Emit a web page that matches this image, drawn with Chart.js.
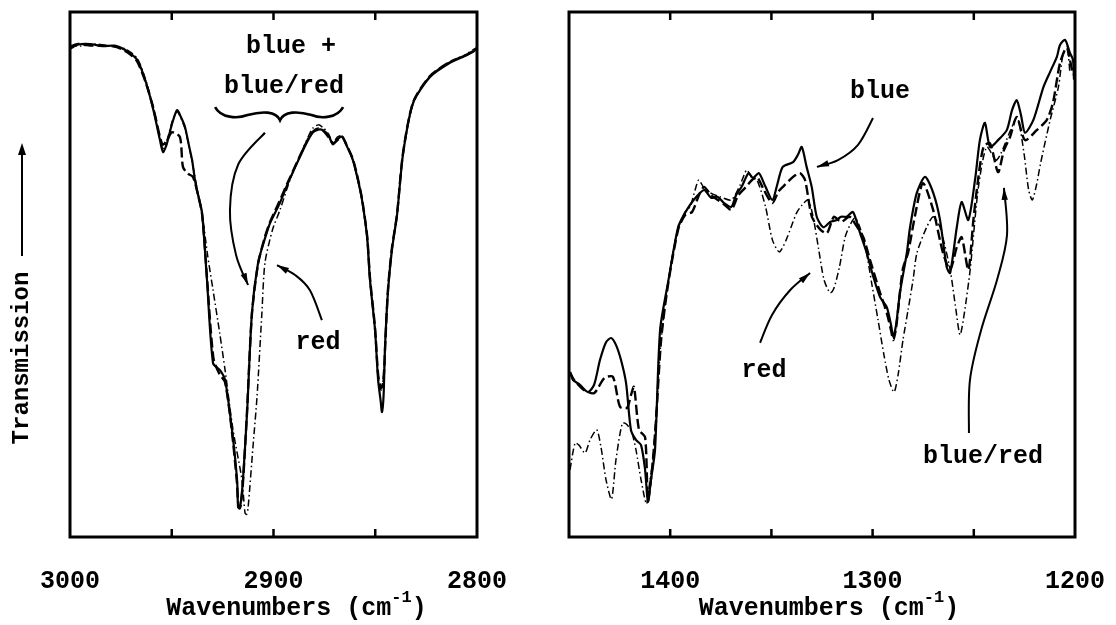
<!DOCTYPE html>
<html>
<head>
<meta charset="utf-8">
<title>IR transmission spectra</title>
<script src="https://cdn.jsdelivr.net/npm/chart.js@4.4.1/dist/chart.umd.min.js"></script>
<style>
    html, body { margin: 0; padding: 0; background: #fff; }
    #wrap { position: relative; width: 1116px; height: 625px; overflow: hidden; }
    .panel { position: absolute; top: 0; }
    #leftPanel { left: 0; }
    #rightPanel { left: 530px; }
</style>
</head>
<body>
<div id="wrap">
    <div class="panel" id="leftPanel"><canvas id="chChart" width="530" height="625"></canvas></div>
    <div class="panel" id="rightPanel"><canvas id="fpChart" width="586" height="625"></canvas></div>
</div>
<script>
// ---- C-H stretch region (left panel) ----
const chRange = [2800, 3000];
const chTickLabels = [3000, 2900, 2800];

const chBlueWn = [3000, 2996, 2990, 2984, 2978, 2973, 2970, 2967, 2963, 2959, 2955.8, 2954.3, 2952.5, 2950, 2947.4,
    2945.5, 2943.5, 2941.5, 2940, 2938.6, 2937, 2935.1, 2932.7, 2929.7, 2926.3, 2923.8, 2920.4, 2917.9, 2917.4, 2916.6,
    2915.8, 2915, 2913, 2910.6, 2907.6, 2904.5, 2901.7, 2897, 2892.9, 2887, 2883, 2880.6, 2878, 2875.7, 2873,
    2870.8, 2868.5, 2866.3, 2864, 2861, 2858.5, 2856.5, 2854, 2852.6, 2850.1, 2848.6, 2847.4, 2846.7, 2845.9, 2845.2,
    2843.7, 2841.8, 2839.3, 2836.4, 2831.4, 2823.1, 2813.3, 2806, 2802, 2800];
const chBlueT = [93.0, 93.8, 93.9, 93.5, 93.6, 92.8, 92.0, 90.9, 87.0, 81.3, 75.6, 73.3, 74.8, 78.5, 81.3,
    80.0, 78.1, 74.5, 71.8, 68.0, 65.0, 61.7, 49.0, 33.1, 31.8, 29.9, 20.4, 10.9, 5.7, 5.4,
    7.5, 10.9, 23.6, 42.7, 52.2, 56.5, 59.8, 63.5, 67.4, 72.4, 75.6, 77.1, 77.6, 77.5, 76.5,
    74.8, 75.8, 76.2, 74.5, 71.8, 68.0, 64.2, 57.1, 49.0, 39.4, 29.9, 26.1, 23.8, 27.0, 36.2,
    47.0, 54.7, 61.3, 72.8, 82.7, 87.6, 90.3, 91.6, 92.4, 93.0];

const chBlueRedWn = [3000, 2996, 2990, 2984, 2978, 2973, 2970, 2967, 2963, 2959, 2955.8, 2954.3, 2952, 2949.9, 2946,
    2944.5, 2942, 2939.6, 2937.6, 2935.1, 2932.7, 2929.5, 2926.5, 2923.8, 2920.4, 2918, 2917.2, 2916.4, 2915.5, 2914.8,
    2913, 2910.6, 2907.6, 2904.5, 2901.7, 2897, 2892.9, 2887, 2883, 2880.6, 2878, 2875.7, 2873, 2870.8, 2868.5,
    2866.3, 2864, 2861, 2858.5, 2856.5, 2854, 2852.6, 2850.1, 2848.6, 2847.2, 2846.4, 2845.6, 2845, 2843.7, 2841.8,
    2839.3, 2836.4, 2831.4, 2823.1, 2813.3, 2806, 2802, 2800];
const chBlueRedT = [93.4, 93.9, 93.6, 93.6, 93.4, 92.6, 91.8, 90.6, 86.8, 81.6, 76.2, 74.7, 75.8, 77.1, 76.2,
    70.5, 69.2, 68.6, 66.0, 61.5, 49.5, 34.0, 31.0, 29.5, 20.0, 10.5, 5.8, 5.6, 8.0, 11.5,
    24.0, 42.5, 52.0, 56.8, 60.0, 64.0, 67.6, 72.6, 75.8, 77.2, 77.8, 77.4, 76.2, 75.0, 75.6,
    76.3, 74.6, 72.0, 68.2, 64.4, 57.4, 49.4, 39.8, 31.0, 28.4, 28.8, 32.0, 37.5, 47.4, 55.0,
    61.5, 73.0, 82.8, 87.8, 90.5, 91.7, 92.5, 93.1];

const chRedWn = [3000, 2995, 2988, 2980, 2973, 2967, 2963, 2959, 2955.8, 2954.3, 2952, 2949.5, 2947.4, 2945.5, 2943.5,
    2940, 2937.6, 2935.1, 2932.5, 2929.7, 2926.5, 2923.8, 2919.9, 2915.5, 2914, 2913.2, 2912.5, 2910.1, 2908.1, 2905.7,
    2904.2, 2900.5, 2896.8, 2891.9, 2887, 2883, 2880.6, 2878, 2875.7, 2873, 2870.8, 2868.5, 2866.3, 2864, 2861,
    2856.5, 2854, 2852.6, 2850.1, 2848.6, 2847.2, 2846.5, 2845.6, 2845, 2843.7, 2841.8, 2839.3, 2836.4, 2831.4, 2823.1,
    2813.3, 2806, 2802, 2800];
const chRedT = [93.6, 93.5, 93.9, 93.5, 93.0, 91.2, 87.3, 81.8, 76.0, 74.0, 76.0, 79.5, 81.0, 79.8, 77.8,
    71.5, 66.5, 61.7, 54.0, 47.0, 39.0, 31.8, 20.4, 10.9, 4.6, 4.3, 5.5, 17.1, 26.7, 42.7,
    52.2, 58.5, 62.3, 68.0, 72.6, 76.2, 77.9, 78.5, 78.0, 76.8, 75.2, 76.2, 76.4, 74.5, 71.8,
    64.2, 57.1, 49.0, 39.4, 30.5, 28.0, 28.6, 32.0, 38.0, 47.5, 55.0, 61.5, 73.0, 82.5, 87.8,
    90.5, 91.8, 92.8, 93.2];

// ---- fingerprint region (right panel) ----
const fpRange = [1200, 1450];
const fpTickLabels = [1400, 1300, 1200];

const fpBlueWn = [1449.5, 1448.0, 1444.6, 1440.6, 1437.6, 1434.7, 1431.7, 1429.2, 1426.8, 1424.3, 1421.8, 1419.4, 1416.9,
    1414.4, 1412.4, 1411.0, 1409.5, 1407.5, 1405.0, 1401.1, 1396.1, 1392.7, 1388.4, 1383.3, 1379.8, 1376.6, 1373.4,
    1369.8, 1367.5, 1364.7, 1361.3, 1359.1, 1356.2, 1352.9, 1349.5, 1347.2, 1344.4, 1339.3, 1336.9, 1335.0, 1332.6,
    1330.1, 1327.6, 1324.4, 1321.0, 1317.7, 1315.6, 1312.8, 1309.7, 1306.2, 1302.9, 1299.6, 1296.3, 1293.0, 1290.9,
    1289.8, 1288.4, 1286.5, 1283.1, 1281.5, 1278.2, 1274.1, 1270.0, 1266.7, 1263.4, 1261.7, 1258.4, 1256.0, 1252.7,
    1249.4, 1247.0, 1244.5, 1242.0, 1238.0, 1233.7, 1231.1, 1228.8, 1226.7, 1224.7, 1220.6, 1215.6, 1212.3, 1209.0,
    1207.4, 1204.9, 1202.5, 1201.0, 1200.5];
const fpBlueT = [31.4, 29.9, 29.0, 27.6, 29.0, 33.7, 37.1, 37.9, 36.6, 33.7, 29.3, 20.4, 18.5,
    17.5, 12.8, 6.7, 10.9, 16.6, 39.4, 48.4, 59.0, 61.7, 64.2, 66.1, 64.6, 64.8, 63.6,
    62.9, 65.1, 66.7, 69.3, 68.4, 69.3, 66.7, 64.2, 67.0, 70.5, 71.4, 72.8, 74.3, 70.5,
    66.7, 61.0, 59.0, 60.0, 60.4, 61.0, 61.0, 61.9, 57.9, 54.1, 49.5, 45.7, 43.8, 40.4,
    38.1, 40.4, 46.5, 54.1, 59.0, 65.5, 68.6, 65.5, 60.4, 51.4, 50.3, 59.0, 63.8, 60.4,
    68.0, 75.6, 78.9, 74.3, 75.6, 77.5, 81.3, 83.2, 80.4, 77.0, 79.4, 85.7, 88.6, 91.4,
    93.7, 94.7, 92.2, 90.9, 87.1];

const fpBlueRedWn = [1449.5, 1447.5, 1442.6, 1437.6, 1432.5, 1428.3, 1424.8, 1421.3, 1419.4, 1417.9, 1415.4, 1412.4,
    1411.0, 1409.0, 1407.0, 1404.5, 1401.1, 1396.1, 1392.7, 1389.2, 1385.8, 1383.3, 1379.8, 1376.4, 1372.9, 1369.8,
    1366.5, 1363.0, 1359.6, 1357.1, 1353.7, 1349.5, 1346.7, 1344.3, 1339.3, 1335.9, 1333.4, 1330.0, 1325.7, 1322.5,
    1319.1, 1315.6, 1311.4, 1308.2, 1304.6, 1301.3, 1296.3, 1293.0, 1290.9, 1289.8, 1288.4, 1286.9, 1285.0, 1282.5,
    1279.0, 1275.1, 1270.1, 1265.2, 1261.7, 1258.4, 1256.0, 1252.7, 1250.2, 1247.9, 1245.2, 1242.0, 1238.0, 1235.1,
    1232.1, 1228.8, 1224.7, 1218.9, 1214.0, 1210.9, 1207.4, 1204.1, 1202.5, 1201.0];
const fpBlueRedT = [31.4, 29.9, 28.0, 27.4, 30.3, 30.5, 24.8, 24.6, 27.0, 28.6, 20.4, 19.0,
    7.0, 12.8, 22.3, 37.5, 48.0, 58.5, 61.3, 61.9, 65.1, 66.7, 65.1, 64.2, 63.2, 62.3,
    65.0, 66.5, 68.0, 68.6, 66.1, 63.6, 65.7, 66.7, 68.6, 69.3, 68.0, 61.0, 58.5, 57.9,
    61.0, 60.0, 61.0, 59.4, 57.1, 52.8, 46.5, 42.7, 39.4, 37.5, 39.8, 45.1, 51.2, 54.1,
    61.3, 67.4, 62.3, 54.1, 50.9, 55.2, 57.1, 50.9, 60.4, 68.0, 74.3, 75.0, 69.5, 73.7,
    76.2, 80.0, 75.6, 77.5, 79.4, 82.7, 90.3, 93.3, 90.9, 88.0];

const fpRedWn = [1449.5, 1447.0, 1445.1, 1442.1, 1439.6, 1436.3, 1434.2, 1431.7, 1429.0, 1426.8, 1423.6, 1421.3, 1418.9,
    1416.9, 1414.4, 1411.7, 1410.0, 1408.5, 1406.5, 1404.5, 1401.6, 1396.6, 1392.7, 1390.2, 1387.7, 1385.9, 1383.3,
    1379.9, 1375.4, 1369.8, 1365.5, 1362.2, 1359.6, 1357.1, 1352.9, 1349.5, 1346.1, 1342.7, 1337.6, 1334.9, 1331.9,
    1329.4, 1326.6, 1324.0, 1321.0, 1319.1, 1316.4, 1313.6, 1311.2, 1308.7, 1306.2, 1303.3, 1300.3, 1297.3, 1294.4,
    1291.9, 1289.4, 1287.4, 1285.0, 1282.5, 1280.0, 1278.1, 1273.3, 1270.0, 1266.7, 1261.7, 1258.8, 1256.8, 1254.8,
    1251.8, 1247.7, 1243.6, 1238.7, 1231.8, 1228.5, 1225.2, 1222.9, 1221.1, 1219.0, 1217.0, 1212.3, 1208.2, 1205.8,
    1203.8, 1202.5];
const fpRedT = [12.8, 17.9, 17.5, 16.0, 18.5, 20.4, 17.1, 10.9, 7.2, 14.7, 21.7, 21.4, 19.8,
    16.6, 10.9, 6.3, 10.9, 14.7, 26.1, 37.5, 47.0, 58.1, 61.9, 62.9, 66.1, 68.0, 66.5,
    65.5, 64.8, 64.2, 67.0, 69.9, 68.4, 68.0, 62.9, 56.6, 54.3, 56.6, 61.7, 63.2, 64.2,
    61.0, 54.7, 49.0, 46.5, 47.4, 51.4, 57.1, 59.4, 60.8, 58.9, 54.7, 48.0, 41.3, 34.7,
    29.9, 27.6, 30.9, 37.5, 43.2, 49.0, 54.1, 59.0, 61.0, 59.0, 50.9, 43.2, 38.5, 42.3,
    50.9, 66.7, 74.3, 71.8, 77.5, 80.0, 73.1, 66.1, 64.2, 67.1, 71.2, 79.4, 85.7, 92.2,
    92.8, 88.4];

const FONT = '"Liberation Mono", "Courier New", monospace';

const lineStyles = {
    blue:    { borderWidth: 2.2, borderDash: [] },
    blueRed: { borderWidth: 2.4, borderDash: [10, 4] },
    red:     { borderWidth: 1.5, borderDash: [7, 3, 1.5, 3] }
};

function toPoints(wn, t) {
    return wn.map((w, i) => ({ x: w, y: t[i] }));
}

function makeDataset(label, wn, t, style) {
    return Object.assign({
        label: label,
        data: toPoints(wn, t),
        borderColor: '#000',
        backgroundColor: '#000',
        pointRadius: 0,
        tension: 0.25,
        fill: false
    }, lineStyles[style]);
}

// smooth curve through points (Catmull-Rom as bezier)
function smoothPath(ctx, pts) {
    ctx.beginPath();
    ctx.moveTo(pts[0][0], pts[0][1]);
    for (let i = 0; i < pts.length - 1; i++) {
        const p0 = pts[i - 1] || pts[i], p1 = pts[i], p2 = pts[i + 1], p3 = pts[i + 2] || p2;
        ctx.bezierCurveTo(
            p1[0] + (p2[0] - p0[0]) / 6, p1[1] + (p2[1] - p0[1]) / 6,
            p2[0] - (p3[0] - p1[0]) / 6, p2[1] - (p3[1] - p1[1]) / 6,
            p2[0], p2[1]);
    }
    ctx.stroke();
}

function drawArrow(ctx, pts) {
    smoothPath(ctx, pts);
    const tip = pts[pts.length - 1], prev = pts[pts.length - 2];
    const ang = Math.atan2(tip[1] - prev[1], tip[0] - prev[0]);
    const len = 12, half = 3.2;
    ctx.beginPath();
    ctx.moveTo(tip[0], tip[1]);
    ctx.lineTo(tip[0] - len * Math.cos(ang) + half * Math.sin(ang), tip[1] - len * Math.sin(ang) - half * Math.cos(ang));
    ctx.lineTo(tip[0] - len * Math.cos(ang) - half * Math.sin(ang), tip[1] - len * Math.sin(ang) + half * Math.cos(ang));
    ctx.closePath();
    ctx.fill();
}

function drawBrace(ctx, l, r, tip) {
    const x0 = l[0], x1 = r[0], y0 = l[1], xm = tip[0], y1 = tip[1];
    ctx.beginPath();
    ctx.moveTo(x0, y0);
    ctx.bezierCurveTo(x0 + 6, y0 + 11, x0 + 22, y0 + 12, (x0 + xm) / 2, y0 + 8);
    ctx.bezierCurveTo(xm - 18, y0 + 4, xm - 4, y0 + 4, xm, y1);
    ctx.bezierCurveTo(xm + 4, y0 + 4, xm + 18, y0 + 4, (xm + x1) / 2, y0 + 8);
    ctx.bezierCurveTo(x1 - 22, y0 + 12, x1 - 6, y0 + 11, x1, y0);
    ctx.stroke();
}

const figureNotes = {
    id: 'figureNotes',
    afterDraw(chart, args, opts) {
        const ctx = chart.ctx;
        const a = chart.chartArea;
        const xs = chart.scales.x, ys = chart.scales.y;
        const px = (w, t) => [xs.getPixelForValue(w), ys.getPixelForValue(t)];

        ctx.save();
        ctx.strokeStyle = '#000';
        ctx.fillStyle = '#000';
        ctx.setLineDash([]);

        // frame and inward ticks
        ctx.lineWidth = 3;
        ctx.strokeRect(a.left, a.top, a.right - a.left, a.bottom - a.top);
        ctx.lineWidth = 2.5;
        xs.ticks.forEach(tk => {
            const x = xs.getPixelForValue(tk.value);
            if (x <= a.left + 2 || x >= a.right - 2) return;
            ctx.beginPath();
            ctx.moveTo(x, a.top); ctx.lineTo(x, a.top + 8);
            ctx.moveTo(x, a.bottom); ctx.lineTo(x, a.bottom - 8);
            ctx.stroke();
        });

        // text labels
        ctx.font = 'bold 25px ' + FONT;
        ctx.textAlign = 'center';
        ctx.textBaseline = 'middle';
        (opts.labels || []).forEach(l => {
            const p = px(l.at[0], l.at[1]);
            ctx.fillText(l.text, p[0], p[1]);
        });

        // pointer arrows and brace
        ctx.lineWidth = 2;
        (opts.arrows || []).forEach(path => drawArrow(ctx, path.map(q => px(q[0], q[1]))));
        if (opts.brace) {
            ctx.lineWidth = 2.6;
            drawBrace(ctx, px(opts.brace.left[0], opts.brace.left[1]),
                px(opts.brace.right[0], opts.brace.right[1]),
                px(opts.brace.tip[0], opts.brace.tip[1]));
        }

        // x axis title with superscript
        const cx = (a.left + a.right) / 2 + opts.titleShift;
        const main = 'Wavenumbers (cm', sup = '-1', close = ')';
        ctx.textAlign = 'left';
        ctx.textBaseline = 'alphabetic';
        ctx.font = 'bold 25px ' + FONT;
        const w1 = ctx.measureText(main).width, w3 = ctx.measureText(close).width;
        ctx.font = 'bold 17px ' + FONT;
        const w2 = ctx.measureText(sup).width;
        const x0 = cx - (w1 + w2 + w3) / 2;
        ctx.font = 'bold 25px ' + FONT;
        ctx.fillText(main, x0, 615);
        ctx.fillText(close, x0 + w1 + w2, 615);
        ctx.font = 'bold 17px ' + FONT;
        ctx.fillText(sup, x0 + w1, 602);

        // y axis title with upward arrow
        if (opts.yTitle) {
            const yt = opts.yTitle;
            ctx.save();
            ctx.translate(yt.x, yt.center);
            ctx.rotate(-Math.PI / 2);
            ctx.font = 'bold 24px ' + FONT;
            ctx.textAlign = 'center';
            ctx.textBaseline = 'middle';
            ctx.fillText(yt.text, 0, 0);
            ctx.restore();
            ctx.lineWidth = 2;
            ctx.beginPath();
            ctx.moveTo(yt.x, yt.arrowFrom);
            ctx.lineTo(yt.x, yt.arrowTo + 8);
            ctx.stroke();
            ctx.beginPath();
            ctx.moveTo(yt.x, yt.arrowTo);
            ctx.lineTo(yt.x - 4, yt.arrowTo + 12);
            ctx.lineTo(yt.x + 4, yt.arrowTo + 12);
            ctx.closePath();
            ctx.fill();
        }
        ctx.restore();
    }
};

function buildOptions(range, tickLabels, padding, notes) {
    return {
        responsive: false,
        animation: false,
        layout: { padding: padding },
        plugins: {
            legend: { display: false },
            tooltip: { enabled: false },
            figureNotes: notes
        },
        scales: {
            x: {
                type: 'linear',
                reverse: true,
                min: range[0],
                max: range[1],
                grid: { display: false, drawTicks: false },
                border: { display: false },
                ticks: {
                    stepSize: 50,
                    autoSkip: false,
                    maxRotation: 0,
                    minRotation: 0,
                    padding: 30,
                    color: '#000',
                    font: { family: FONT, size: 25, weight: 'bold' },
                    callback: v => tickLabels.includes(v) ? String(v) : ''
                },
                afterFit: scale => {
                    // fixed axis band; edge labels may hang outside the frame
                    scale.height = 88;
                    scale.paddingLeft = 0;
                    scale.paddingRight = 0;
                }
            },
            y: { display: false, min: 0, max: 100 }
        }
    };
}

new Chart(document.getElementById('chChart'), {
    type: 'line',
    data: {
        datasets: [
            makeDataset('blue', chBlueWn, chBlueT, 'blue'),
            makeDataset('blue/red', chBlueRedWn, chBlueRedT, 'blueRed'),
            makeDataset('red', chRedWn, chRedT, 'red')
        ]
    },
    options: buildOptions(chRange, chTickLabels, { left: 70, right: 53, top: 12, bottom: 0 }, {
        titleShift: 23,
        labels: [
            { text: 'blue +', at: [2891.4, 93.3] },
            { text: 'blue/red', at: [2894.8, 85.7] },
            { text: 'red', at: [2878.1, 37.1] }
        ],
        arrows: [
            [[2904.2, 77.0], [2917.4, 70.9], [2921.4, 62.3], [2918.4, 53.7], [2912.5, 48.0]],
            [[2876.2, 41.3], [2882.1, 47.0], [2889.4, 49.9], [2898.3, 51.8]]
        ],
        brace: { left: [2928.7, 81.9], right: [2865.8, 81.9], tip: [2896.8, 79.4] },
        yTitle: { text: 'Transmission', x: 22, center: 358, arrowFrom: 256, arrowTo: 143 }
    }),
    plugins: [figureNotes]
});

new Chart(document.getElementById('fpChart'), {
    type: 'line',
    data: {
        datasets: [
            makeDataset('blue', fpBlueWn, fpBlueT, 'blue'),
            makeDataset('blue/red', fpBlueRedWn, fpBlueRedT, 'blueRed'),
            makeDataset('red', fpRedWn, fpRedT, 'red')
        ]
    },
    options: buildOptions(fpRange, fpTickLabels, { left: 39, right: 41, top: 12, bottom: 0 }, {
        titleShift: 7,
        labels: [
            { text: 'blue', at: [1296.3, 84.8] },
            { text: 'red', at: [1353.7, 31.6] },
            { text: 'blue/red', at: [1245.5, 15.2] }
        ],
        arrows: [
            [[1299.8, 79.8], [1307.2, 74.7], [1317.1, 71.8], [1327.5, 70.5]],
            [[1355.6, 37.0], [1349.7, 42.3], [1340.8, 47.0], [1330.9, 50.3]],
            [[1252.4, 19.8], [1251.9, 29.9], [1246.4, 39.4], [1238.5, 49.0], [1233.6, 57.5], [1235.1, 66.5]]
        ]
    }),
    plugins: [figureNotes]
});
</script>
</body>
</html>
